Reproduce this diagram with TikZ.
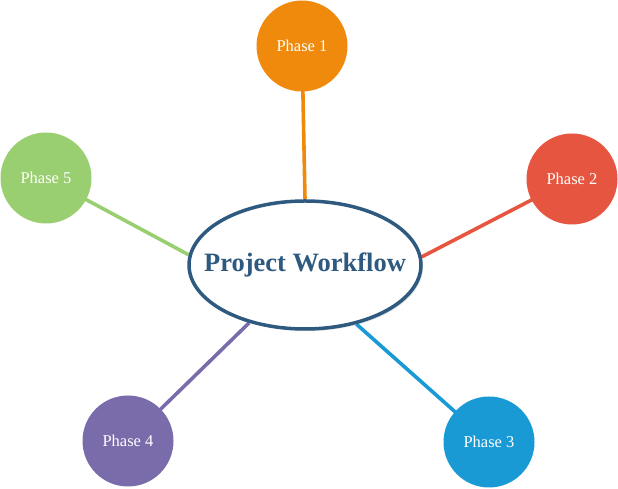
\documentclass[tikz,border=0pt]{standalone}
\usepackage{fontspec}
\setmainfont{Liberation Serif}
\usepackage{tikz}
\usetikzlibrary{shapes.geometric,shadows,backgrounds}
\definecolor{hubblue}{HTML}{2F5A80}
\definecolor{phaseorange}{HTML}{EF8A0C}
\definecolor{phasered}{HTML}{E6553F}
\definecolor{phaseblue}{HTML}{1A9AD4}
\definecolor{phasepurple}{HTML}{7A6BAA}
\definecolor{phasegreen}{HTML}{99CF70}
\tikzset{
  hub/.style={ellipse, draw=hubblue, line width=3.5pt, fill=white, minimum width=232pt, minimum height=128pt, inner xsep=-22pt, inner ysep=0pt, font=\fontsize{26.5}{30}\selectfont\bfseries, text=hubblue, drop shadow={opacity=0.25, shadow xshift=2pt, shadow yshift=-2pt}},
  phase/.style={circle, minimum size=91pt, inner sep=0pt, text=white, font=\fontsize{16.5}{19}\selectfont},
  link/.style={line width=3.6pt}
}
\begin{document}
\begin{tikzpicture}[x=1pt,y=1pt]
\useasboundingbox (0,0) rectangle (618,489);
\node[hub] (wf) at (305,224) {Project Workflow};
\node[phase, fill=phaseorange] (p1) at (302,443) {Phase 1};
\node[phase, fill=phasered] (p2) at (572,310) {Phase 2};
\node[phase, fill=phaseblue] (p3) at (489,47) {Phase 3};
\node[phase, fill=phasepurple] (p4) at (128,48) {Phase 4};
\node[phase, fill=phasegreen] (p5) at (46,311) {Phase 5};
\begin{scope}[on background layer]
\draw[link, phaseorange] (p1.center) -- (wf.north);
\draw[link, phasered] (p2.center) -- (wf.4);
\draw[link, phaseblue] (p3.center) -- (wf.311);
\draw[link, phasepurple] (p4.center) -- (wf.226);
\draw[link, phasegreen] (p5.center) -- (wf.175);
\end{scope}
\end{tikzpicture}
\end{document}
